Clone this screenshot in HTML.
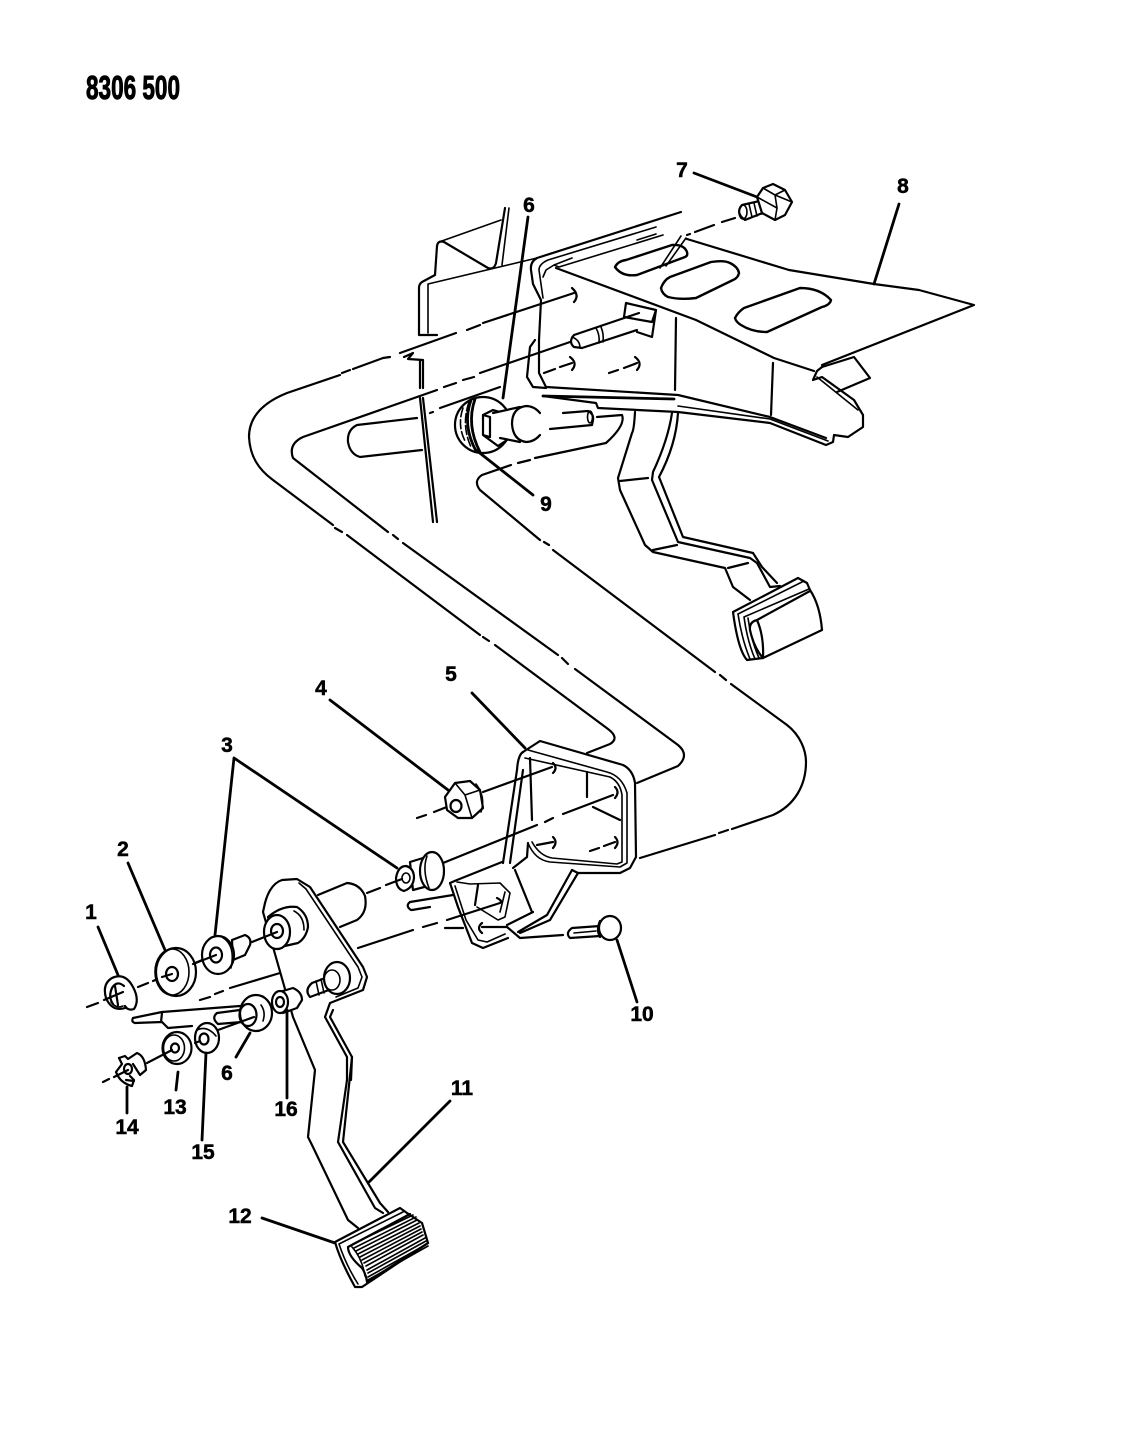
<!DOCTYPE html>
<html><head><meta charset="utf-8"><title>8306 500</title>
<style>
html,body{margin:0;padding:0;background:#fff;width:1122px;height:1456px;overflow:hidden}
svg{display:block}
text{font-family:"Liberation Sans",sans-serif;font-weight:700;fill:#000;text-anchor:middle;stroke:#000;stroke-width:.5}
.l{fill:none;stroke:#000;stroke-width:2.2;stroke-linecap:round;stroke-linejoin:round}
.t{fill:none;stroke:#000;stroke-width:1.6;stroke-linecap:round;stroke-linejoin:round}
.w{fill:#fff;stroke:#000;stroke-width:2.2;stroke-linejoin:round}
.k{fill:none;stroke:#000;stroke-width:2.8;stroke-linecap:round}
</style></head><body>
<svg width="1122" height="1456" viewBox="0 0 1122 1456" xmlns="http://www.w3.org/2000/svg">
<text x="133" y="99" font-size="33" textLength="94" lengthAdjust="spacingAndGlyphs" style="stroke-width:1">8306 500</text>

<!-- long connecting outlines -->
<path class="l" d="M574 293 L483 323 M480 325 L467 330 M456 333 L400 353 M390 357 L383 358 M383 358 L353 369 M350 370 L342 373"/>
<path class="l" d="M340 375 L287 393 C262 403 249 418 249 437 C250 456 258 469 273 480 L333 525 M335 528 L342 532 M347 535 L480 635 M483 637 L489 641 M495 645 L608 729 Q620 738 610 744 L587 753"/>
<path class="l" d="M570 342 L480 373 M474 377 L463 380 M456 383 L444 387 M437 390 L303 437 Q288 444 293 458 L388 532 M393 535 L398 539 M403 543 L558 655 M562 658 L568 664 M575 669 L678 745 Q690 755 678 766 L637 783"/>
<path class="l" d="M500 387 L440 408 M433 412 L430 413"/>
<path class="l" d="M597 417 L622 415 Q626 425 606 443 L535 458 M530 460 L518 463 M511 465 L482 475 Q473 481 480 490 L540 540 M544 542 L549 545 M553 550 L715 672 M720 675 L726 680 M731 684 L787 725 C800 735 806 750 806 762 C806 785 795 805 773 815 L732 829 M728 830 L719 833 M715 835 L640 858"/>

<!-- vertical panel at left -->
<path class="l" d="M505 208 L496 263 Q494 270 488 268 L444 242 Q438 240 437 246 L435 275 L422 282 Q419 284 419 288 L419 335 L437 335"/>
<path class="t" d="M509 208 L502 265 M439 242 L501 220 M428 284 L428 333 M428 284 L537 258"/>
<path class="l" d="M404 357 L413 353 L408 359 L423 360 M420 360 L420 388 M423 360 L423 388 M420 398 L433 522 M423 398 L437 522"/>
<path class="l" d="M417 418 L357 425 Q347 430 348 442 Q350 454 360 457 L422 450"/>

<!-- bracket 8 -->
<path class="l" d="M687 239 L789 270 L874 284 L919 290 L974 305 L822 365 M814 371 L774 358 L696 320 L556 268"/>
<path class="l" d="M681 212 L537 258 Q530 262 531 270 L533 284 L541 300 L539 340 L539 373 L546 387 L678 395 L770 417 L826 438"/>
<path class="t" d="M656 227 L548 260 Q539 264 539 270 L543 298 M663 235 L559 267 L554 265 L546 270 L543 277 M554 265 L572 258 M637 240 L656 234"/>
<path class="l" d="M535 340 L530 347 L527 377 L533 387 L546 388"/>
<path class="l" d="M543 396 L674 399" style="stroke-width:2.8"/>
<path class="l" d="M543 396 L596 403 L598 408 L678 412 L770 423 L826 445 L833 442 L834 435 L848 437 L863 427 L863 415 L854 400 L822 377 L813 380 L817 371 L822 367"/>
<path class="t" d="M817 377 L858 410 M678 406 L770 419 L828 441"/>
<path class="l" d="M822 367 L854 357 L870 378 L837 392"/>
<path class="l" d="M676 318 L675 390 M773 363 L771 415"/>
<path class="l" d="M615 267 Q618 261 626 260 L672 245 Q684 244 687 252 Q688 256 685 257 L637 275 Q622 277 615 267 Z" style="stroke-width:2.4"/>
<path class="l" d="M661 288 Q664 280 670 277 L711 262 Q724 260 730 263 Q738 267 739 273 Q738 278 733 280 L696 298 Q680 300 668 297 Q662 294 661 288 Z" style="stroke-width:2.4"/>
<path class="l" d="M735 318 Q738 312 744 308 L800 288 Q820 288 831 300 Q830 305 822 307 L767 332 Q752 332 741 325 Q736 322 735 318 Z" style="stroke-width:2.4"/>
<path class="t" d="M681 236 L660 268 M686 238 L666 266"/>
<!-- stud -->
<path class="l" d="M626 303 L656 310 L652 337 L637 332 M626 303 L624 317 L652 322 M656 310 L652 322"/>
<path class="l" d="M639 313 L574 335 Q568 342 574 347 L582 348 L637 330"/>
<path class="t" d="M596 328 Q600 335 599 343 M601 327 Q604 334 603 342"/>
<path class="t" d="M572 337 Q580 340 580 348"/>
<!-- holes -->
<path class="l" d="M572 288 Q580 295 574 302 M570 357 Q578 363 572 370 M635 357 Q643 363 637 370"/>
<path class="l" d="M544 373 L555 369 M560 367 L572 363 M609 373 L618 370 M624 368 L637 363"/>
<!-- bolt 7 -->
<path class="l" d="M735 218 L722 222 M714 225 L695 232 M690 234 L687 235"/>
<path class="w" d="M742 205 L773 198 L775 208 L745 220 Q735 213 742 205 Z"/>
<ellipse class="t" cx="743" cy="212" rx="4" ry="7"/>
<path class="t" d="M749 204 L752 217 M754 203 L757 216 M759 202 L762 214 M764 200 L767 212 M769 199 L772 210"/>
<path class="w" d="M757 197 L763 188 L773 184 L785 190 L792 202 L785 215 L775 220 L762 213 Z"/>
<path class="t" d="M763 188 L775 195 L785 190 M775 195 L792 202 M775 195 L777 208 L775 220 M757 197 L777 208"/>
<!-- 6 + 9 assembly -->
<ellipse class="w" cx="483" cy="425" rx="28" ry="28"/>
<path class="t" d="M463 408 Q457 425 465 441 M469 402 Q461 425 471 447" stroke-dasharray="9 3"/>
<path class="l" d="M475 399 Q466 425 480 452 M471 400 Q462 425 476 451" style="stroke-width:2.8"/>
<path class="l" d="M483 415 L493 410 L500 412 M483 415 L483 435 L498 446 L507 440 M490 417 L490 437 M483 415 L490 417 M483 435 L490 437"/>
<path class="w" d="M493 413 L520 407 L520 442 L500 438 Z" style="stroke:none"/>
<path class="l" d="M493 413 L520 407 M500 438 L520 442"/>
<path class="l" d="M540 413 Q534 406 526 406 Q512 408 512 424 Q513 440 526 442 Q534 442 540 435"/>
<path class="l" d="M563 413 L588 411 Q594 414 593 420 L592 425 L550 429"/>
<ellipse class="t" cx="590" cy="417" rx="2.500" ry="6"/>

<!-- upper pedal -->
<path class="l" d="M635 412 Q634 430 632 433 L618 478 L620 490 L645 545 L653 552 L725 568 L733 587 L750 600"/>
<path class="l" d="M672 413 Q668 440 653 472 L652 480 L678 542 L750 558 L757 563 L770 587 L780 586"/>
<path class="l" d="M678 413 Q676 445 659 477 L683 537 L753 553 L762 567 L777 583"/>
<path class="l" d="M620 481 L648 478 M653 550 L677 545 M728 568 L748 563"/>
<path class="w" d="M733 612 L798 578 L807 583 L810 590 Q820 605 822 630 L763 658 L747 660 Q738 650 733 612 Z"/>
<path class="t" d="M738 614 L804 581 M744 617 L809 589 M738 614 Q742 640 750 659 M744 617 Q747 640 755 659 M748 618 Q751 640 759 658"/>
<path class="l" d="M757 620 Q749 622 750 630 Q754 648 763 658 M757 620 L810 591 M757 620 Q764 636 763 658"/>

<!-- frame 5 -->
<path class="l" d="M523 752 L540 741 L623 765 Q633 770 635 783 L636 857 L630 868 L620 873 L578 873 L572 870"/>
<path class="t" d="M528 750 L607 772 Q622 776 627 793 L627 863 L620 867 L550 862 Q535 860 528 843 M525 758 L610 777 Q620 782 622 795 L622 862 L617 864 L552 858 Q540 856 532 842"/>
<path class="l" d="M523 752 Q518 755 517 770 L503 863 M523 770 L510 863"/>
<path class="l" d="M530 758 L532 820 M587 772 L587 797 M593 807 L620 820"/>
<path class="l" d="M553 763 Q558 768 553 773 M615 787 Q620 792 615 798 M553 837 Q558 842 553 848 M615 837 Q620 842 615 848"/>
<path class="l" d="M483 792 L552 767 M537 845 L553 842 M590 851 L599 848 M604 846 L615 842"/>
<path class="l" d="M443 863 L537 825 M545 822 L553 818 M563 814 L613 795"/>
<path class="l" d="M528 843 L527 857 L513 868"/>
<!-- lower bracket -->
<path class="l" d="M502 862 L457 880 L450 883 L458 907 L472 943 L483 948 L508 938"/>
<path class="t" d="M457 882 L470 884 L500 883 L510 893 L505 917 L498 920 L477 907 M455 886 L466 920 L478 940 L487 942 L505 934 M505 892 L500 912"/>
<path class="l" d="M478 885 L475 905 M515 870 L532 912 M533 912 L507 925"/>
<path class="l" d="M572 870 L547 915 L518 932 M578 873 L550 920 L520 933"/>
<path class="l" d="M482 923 Q476 928 482 933 M482 927 L507 927 L520 938 L563 935 M445 928 L463 928"/>
<path class="l" d="M410 902 L453 895 M412 910 L430 907"/>
<path class="l" d="M410 902 Q405 906 411 910"/>
<path class="l" d="M497 898 Q503 901 500 903 L447 920 M437 923 L423 927 M413 930 L358 948"/>
<!-- bolt 10 -->
<path class="w" d="M572 928 L600 926 L600 936 L570 938 Q565 933 572 928 Z"/>
<path class="t" d="M574 933 L596 931"/>
<ellipse class="w" cx="610" cy="928" rx="11" ry="12"/>
<path class="l" d="M600 921 Q596 930 600 937"/>

<!-- nut 4 -->
<path class="l" d="M417 818 L426 815 M434 812 L457 803"/>
<path class="w" d="M445 797 L455 783 L470 781 L480 790 L483 808 L472 818 L458 818 L447 810 Z"/>
<path class="t" d="M455 783 L465 795 L480 790 M465 795 L472 818 M476 784 Q486 797 481 812"/>
<ellipse class="w" cx="456" cy="806" rx="5.500" ry="6"/>

<!-- part 3 upper bushing -->
<path class="w" d="M410 862 L423 858 L432 885 L413 890 Z"/>
<ellipse class="w" cx="432" cy="871" rx="12" ry="19"/>
<path class="t" d="M427 856 Q422 870 429 888"/>
<path class="w" d="M396 878 Q398 866 406 866 Q414 868 414 878 Q413 888 404 891 Q396 889 396 878 Z"/>
<ellipse class="t" cx="406" cy="878" rx="4" ry="5"/>
<path class="l" d="M367 893 L380 888 M386 885 L402 879"/>

<!-- lower pedal plate -->
<path class="l" d="M318 895 L347 883 Q360 884 365 896 Q368 912 357 920 L340 927"/>
<path class="w" d="M265 903 Q270 884 282 880 L297 879 L310 887 L363 967 L367 977 L363 990 L330 1003 L325 1017 L347 1057 L347 1080 L338 1142 L375 1208 L383 1213 L358 1228 L348 1220 L312 1145 L308 1137 L315 1070 L293 1017 L273 947 L263 912 Z" style="stroke:none"/>
<path class="l" d="M280 973 L230 988 M223 991 L215 994 M210 997 L200 1000"/>
<path class="l" d="M265 903 Q270 884 282 880 L297 879 L310 887 L363 967 L367 977 L363 990 L330 1003 L325 1017 L347 1057 L347 1080 L338 1142 L375 1208 L383 1213"/>
<path class="t" d="M299 883 L306 889 L358 967 L362 977 L358 988 L336 997"/>
<path class="l" d="M352 1057 L343 1142 L380 1203 L388 1212"/>
<path class="l" d="M333 1010 L330 1017 L352 1057 L351 1080"/>
<path class="l" d="M265 903 L263 912 L273 947 L293 1017 L315 1070 L308 1137 L312 1145 L348 1220 L358 1228"/>
<!-- bushing on plate -->
<path class="w" d="M268 917 Q282 905 297 907 Q308 914 308 927 Q306 938 298 943 L276 948 Z"/>
<path class="t" d="M294 911 Q304 916 304 930"/>
<ellipse class="w" cx="277" cy="932" rx="13" ry="17"/>
<ellipse class="l" cx="277" cy="931" rx="6" ry="7"/>
<!-- bolt on plate -->
<path class="w" d="M312 983 L328 977 L337 987 L310 997 Q304 990 312 983 Z"/>
<path class="t" d="M316 981 L319 995 M321 979 L324 993 M326 977 L329 991 M331 976 L334 989"/>
<ellipse class="w" cx="337" cy="978" rx="13" ry="16"/>
<ellipse class="t" cx="332" cy="980" rx="8" ry="10"/>
<!-- spacer 16 -->
<path class="w" d="M276 993 L293 988 Q302 992 302 1000 L297 1008 L283 1013 Z"/>
<ellipse class="w" cx="280" cy="1002" rx="8" ry="11"/>
<ellipse class="l" cx="280" cy="1002" rx="4" ry="5"/>

<!-- hub + rod at part 6 lower -->
<path class="l" d="M133 1018 L162 1012 L240 1006 M133 1018 Q131 1022 135 1023 L162 1022 L168 1028 L192 1026 M162 1013 L161 1022"/>
<path class="l" d="M217 1013 L240 1010 M218 1024 L242 1022 M217 1013 Q211 1018 218 1024"/>
<ellipse class="w" cx="256" cy="1013" rx="16" ry="18"/>
<ellipse class="l" cx="248" cy="1015" rx="8.500" ry="11"/>
<path class="t" d="M261 1005 Q266 1012 263 1021"/>
<path class="l" d="M218 1030 L254 1017"/>
<!-- washers -->
<ellipse class="w" cx="207" cy="1038" rx="12" ry="15"/>
<path class="t" d="M197 1030 Q207 1025 216 1036"/>
<ellipse class="l" cx="204" cy="1039" rx="4.500" ry="5.500"/>
<path class="l" d="M195 1043 L200 1041"/>
<ellipse class="w" cx="177" cy="1048" rx="14.500" ry="16"/>
<ellipse class="t" cx="174" cy="1048" rx="10.500" ry="13"/>
<ellipse class="l" cx="175" cy="1048" rx="4" ry="4.500"/>
<path class="l" d="M147 1063 L172 1050"/>
<!-- clip 14 -->
<path class="l" d="M119 1058 L125 1056 L128 1059 L137 1053 Q145 1056 146 1070 L140 1075 L133 1064"/>
<path class="l" d="M119 1058 L122 1064 L116 1072 Q120 1083 132 1086 L134 1080 L130 1076 M126 1080 L134 1081"/>
<ellipse class="l" cx="128" cy="1069" rx="4" ry="5"/>
<path class="l" d="M103 1082 L109 1079 M114 1077 L128 1070"/>
<!-- washer stack top -->
<path class="l" d="M87 1007 L98 1003 M104 1000 L123 992 M138 987 L148 983 M153 981 L162 977 M193 964 L218 953 M252 942 L277 932"/>
<path class="l" d="M125 1008 Q112 1012 106 998 Q102 984 112 978 Q125 972 133 987 Q140 1000 134 1009 Q128 1011 125 1006"/>
<path class="l" d="M124 986 Q117 980 112 988 Q108 997 113 1004 M115 986 L118 1005"/>
<path class="t" d="M123 1006 Q116 1009 111 1002"/>
<ellipse class="w" cx="176" cy="972" rx="20" ry="24"/>
<ellipse class="t" cx="172" cy="972" rx="17" ry="23"/>
<ellipse class="l" cx="172" cy="974" rx="6" ry="7"/>
<path class="l" d="M172 974 L162 977"/>
<path class="w" d="M232 940 L245 935 Q252 938 250 945 L245 955 L233 960 Z"/>
<ellipse class="w" cx="218" cy="955" rx="16" ry="19"/>
<path class="t" d="M222 937 Q236 945 231 968"/>
<ellipse class="l" cx="216" cy="955" rx="6" ry="7.500"/>
<path class="l" d="M216 955 L193 964"/>

<!-- lower pedal pad -->
<path class="w" d="M335 1242 L400 1208 L407 1213 L422 1223 L428 1243 L362 1287 L355 1287 Q340 1260 335 1242 Z"/>
<path class="t" d="M339 1244 L403 1212 M339 1244 Q346 1265 358 1284"/>
<path class="l" d="M348 1247 L410 1214 M348 1247 Q348 1256 362 1268 Q366 1274 367 1282 L428 1243"/>
<path class="t" d="M352 1247 Q362 1258 365 1276"/>
<path class="t" d="M353 1244 L413 1215 M354 1248 L416 1217 M356 1251 L417 1220 M358 1254 L419 1223 M360 1257 L420 1226 M362 1260 L421 1229 M364 1263 L422 1232 M366 1266 L423 1235 M367 1270 L425 1238 M368 1273 L426 1241 M368 1277 L427 1244 M368 1280 L428 1246"/>

<!-- leaders -->
<path class="k" d="M694 173 L757 197"/>
<path class="k" d="M899 204 L874 284"/>
<path class="k" d="M528 217 L503 398"/>
<path class="k" d="M476 450 L533 495"/>
<path class="k" d="M98 927 L118 975"/>
<path class="k" d="M128 863 L165 950"/>
<path class="k" d="M234 758 L215 935 M234 758 L397 868"/>
<path class="k" d="M330 700 L448 790"/>
<path class="k" d="M472 693 L525 748"/>
<path class="k" d="M617 940 L637 1002"/>
<path class="k" d="M450 1101 L369 1182"/>
<path class="k" d="M262 1218 L335 1243"/>
<path class="k" d="M178 1072 L176 1090"/>
<path class="k" d="M127 1087 L127 1113"/>
<path class="k" d="M206 1053 L202 1140"/>
<path class="k" d="M287 1010 L287 1098"/>
<path class="k" d="M250 1033 L236 1057"/>

<!-- labels -->
<g font-size="21">
<text x="91" y="919">1</text>
<text x="123" y="856">2</text>
<text x="227" y="752">3</text>
<text x="321" y="695">4</text>
<text x="451" y="681">5</text>
<text x="529" y="212">6</text>
<text x="682" y="177">7</text>
<text x="903" y="193">8</text>
<text x="546" y="511">9</text>
<text x="642" y="1021">10</text>
<text x="462" y="1095">11</text>
<text x="240" y="1223">12</text>
<text x="175" y="1114">13</text>
<text x="127" y="1134">14</text>
<text x="203" y="1159">15</text>
<text x="286" y="1116">16</text>
<text x="227" y="1080">6</text>
</g>
</svg>
</body></html>
